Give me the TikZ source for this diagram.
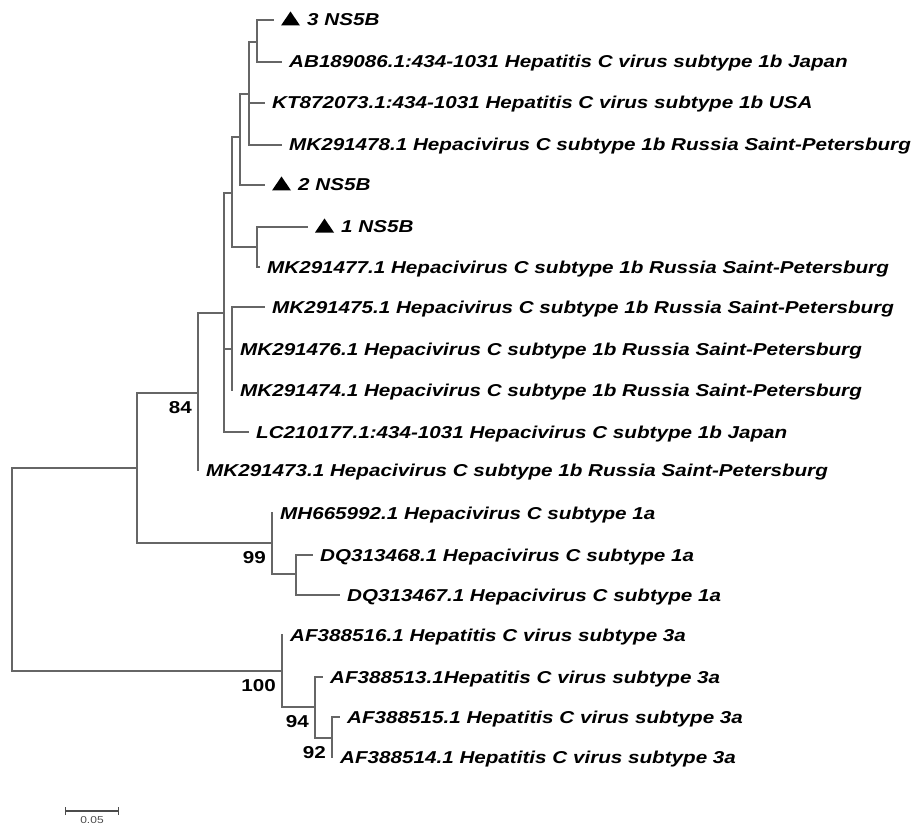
\documentclass[tikz,border=0pt]{standalone}
\usepackage{fontspec}
\usetikzlibrary{arrows.meta}
\newfontfamily\treefont{Liberation Sans}[FakeStretch=1.2]
\begin{document}
\begin{tikzpicture}[x=1pt,y=-1pt,
  branch/.style={draw=black!60,line width=1.3pt},
  txt/.style={anchor=base west,inner sep=0pt,yshift=-6pt,font=\treefont\fontsize{17.2}{20}\selectfont\bfseries\itshape},
  leaf/.style={txt,xshift=7pt},
  ns/.style={txt,xshift=33pt},
  boot/.style={anchor=base east,inner sep=0pt,xshift=-6pt,yshift=-20pt,font=\treefont\fontsize{17.2}{20}\selectfont\bfseries}]
\useasboundingbox (0,0) rectangle (911,824);
\foreach \n/\x/\y in {root/12/570,n1/137/468,n84/198/393,nA/224/313,nB/232/193,nC/240/137,nD/249/94,nE/257/42,nF/257/247,nG/232/349,n99/272/543,nH/296/574,n100/282/671,n94/315/707,n92/332/738}
\coordinate (\n) at (\x,\y);
\foreach \n/\x/\y in {l3/274/20,ab/282/62,kt/265/103,m478/282/145,l2/265/185,l1/308/227,m477/260/267,m475/265/307,m476/233/349,m474/233/390,lc/249/432,m473/199/470,mh/273/513,dq8/313/555,dq7/340/595,af6/283/635,af3/323/677,af5/340/717,af4/333/757}
\coordinate (\n) at (\x,\y);
\foreach \p/\c in {root/n1,root/n100,n1/n84,n1/n99,n84/nA,n84/m473,nA/nB,nA/nG,nA/lc,nB/nC,nB/nF,nC/nD,nC/l2,nD/nE,nD/kt,nD/m478,nE/l3,nE/ab,nF/l1,nF/m477,nG/m475,nG/m476,nG/m474,n99/mh,n99/nH,nH/dq8,nH/dq7,n100/af6,n100/n94,n94/af3,n94/n92,n92/af5,n92/af4}
\draw[branch] (\p) |- (\c);
\foreach \l in {l3,l2,l1}
\fill[shift={(\l)}] (7,5.5) -- (26,5.5) -- (16.5,-8.5) -- cycle;
\node[ns] (t3) at (l3) {3 NS5B};
\node[leaf] (tab) at (ab) {AB189086.1:434-1031 Hepatitis C virus subtype 1b Japan};
\node[leaf] (tkt) at (kt) {KT872073.1:434-1031 Hepatitis C virus subtype 1b USA};
\node[leaf] (t478) at (m478) {MK291478.1 Hepacivirus C subtype 1b Russia Saint-Petersburg};
\node[ns] (t2) at (l2) {2 NS5B};
\node[ns] (t1) at (l1) {1 NS5B};
\node[leaf] (t477) at (m477) {MK291477.1 Hepacivirus C subtype 1b Russia Saint-Petersburg};
\node[leaf] (t475) at (m475) {MK291475.1 Hepacivirus C subtype 1b Russia Saint-Petersburg};
\node[leaf] (t476) at (m476) {MK291476.1 Hepacivirus C subtype 1b Russia Saint-Petersburg};
\node[leaf] (t474) at (m474) {MK291474.1 Hepacivirus C subtype 1b Russia Saint-Petersburg};
\node[leaf] (tlc) at (lc) {LC210177.1:434-1031 Hepacivirus C subtype 1b Japan};
\node[leaf] (t473) at (m473) {MK291473.1 Hepacivirus C subtype 1b Russia Saint-Petersburg};
\node[leaf] (tmh) at (mh) {MH665992.1 Hepacivirus C subtype 1a};
\node[leaf] (tdq8) at (dq8) {DQ313468.1 Hepacivirus C subtype 1a};
\node[leaf] (tdq7) at (dq7) {DQ313467.1 Hepacivirus C subtype 1a};
\node[leaf] (taf6) at (af6) {AF388516.1 Hepatitis C virus subtype 3a};
\node[leaf] (taf3) at (af3) {AF388513.1Hepatitis C virus subtype 3a};
\node[leaf] (taf5) at (af5) {AF388515.1 Hepatitis C virus subtype 3a};
\node[leaf] (taf4) at (af4) {AF388514.1 Hepatitis C virus subtype 3a};
\node[boot] (b84) at (n84) {84};
\node[boot] (b99) at (n99) {99};
\node[boot] (b100) at (n100) {100};
\node[boot] (b94) at (n94) {94};
\node[boot] (b92) at (n92) {92};
\coordinate (s0) at (65,811);
\coordinate (s1) at (119,811);
\draw[black!70,line width=1.1pt,{Bar[width=8pt]}-{Bar[width=8pt]}] (s0) -- (s1);
\node[anchor=south,inner sep=0pt,text=black!70,font=\treefont\fontsize{10}{12}\selectfont] (sc) at (92,823.5) {0.05};
\end{tikzpicture}
\end{document}
